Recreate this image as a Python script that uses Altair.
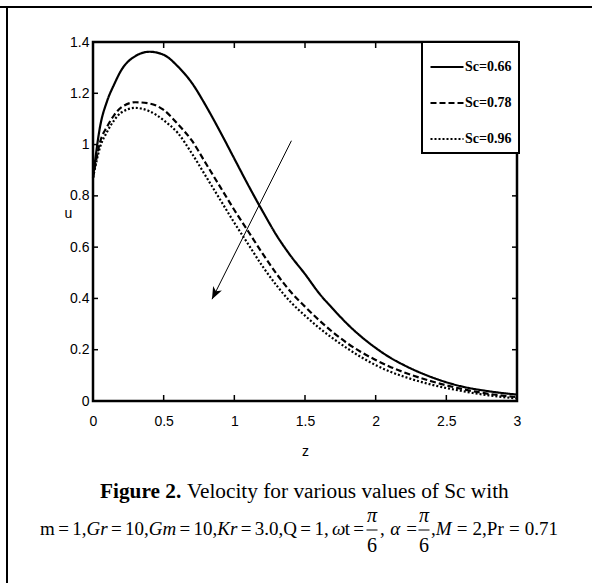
import altair as alt
import pandas as pd

# ---------------- data ----------------
z = [0, 0.05, 0.1, 0.15, 0.2, 0.3, 0.4, 0.5, 0.6, 0.7, 0.8, 0.9, 1.0, 1.1, 1.2, 1.3,
     1.4, 1.5, 1.6, 1.7, 1.8, 1.9, 2.0, 2.1, 2.2, 2.4, 2.6, 2.8, 3.0]
u_066 = [0.87, 1.07, 1.17, 1.235, 1.29, 1.345, 1.362, 1.35, 1.305, 1.24, 1.15, 1.05,
         0.945, 0.84, 0.74, 0.645, 0.565, 0.495, 0.42, 0.358, 0.30, 0.25, 0.207, 0.17,
         0.14, 0.092, 0.058, 0.038, 0.025]
u_078 = [0.87, 1.01, 1.07, 1.115, 1.145, 1.165, 1.16, 1.135, 1.08, 1.015, 0.925, 0.835,
         0.745, 0.66, 0.575, 0.495, 0.425, 0.368, 0.315, 0.267, 0.225, 0.19, 0.16, 0.134,
         0.112, 0.076, 0.048, 0.028, 0.015]
u_096 = [0.87, 0.99, 1.05, 1.095, 1.125, 1.143, 1.13, 1.095, 1.045, 0.965, 0.875, 0.785,
         0.695, 0.61, 0.525, 0.45, 0.385, 0.333, 0.285, 0.243, 0.205, 0.17, 0.14, 0.115,
         0.095, 0.063, 0.04, 0.022, 0.01]
series_labels = ["Sc=0.66", "Sc=0.78", "Sc=0.96"]
x_tick_values = [0, 0.5, 1, 1.5, 2, 2.5, 3]
y_tick_values = [0, 0.2, 0.4, 0.6, 0.8, 1.0, 1.2, 1.4]
x_inner_ticks = [0.5, 1, 1.5, 2, 2.5]
y_inner_ticks = [0.2, 0.4, 0.6, 0.8, 1.0, 1.2]
arrow_z = [1.404, 0.842]
arrow_u = [1.015, 0.397]

# ---------------- layout ----------------
W, H = 424, 359
OX, OY = 93, 42
TOTAL_W, TOTAL_H = 592, 583

rows = []
for lab, us in zip(series_labels, [u_066, u_078, u_096]):
    for zz, uu in zip(z, us):
        rows.append({"z": zz, "u": uu, "Sc": lab})
df = pd.DataFrame(rows)

xs = alt.Scale(domain=[0, 3], nice=False, zero=False)
ys = alt.Scale(domain=[0, 1.4], nice=False, zero=False)

TICK_FONT = "Liberation Sans"
SERIF = "Liberation Serif"

xaxis = alt.Axis(values=x_tick_values, format="~g", ticks=False, domain=False, grid=False,
                 labelFont=TICK_FONT, labelFontSize=14, labelColor="black", labelPadding=13,
                 labelFlush=False, labelOverlap=False,
                 title="z", titleFont=TICK_FONT, titleFontSize=14, titleFontWeight="normal",
                 titleColor="black", titleX=212, titleY=50, titleBaseline="middle",
                 titleAlign="center")
yaxis = alt.Axis(values=y_tick_values, format="~g", ticks=False, domain=False, grid=False,
                 labelFont=TICK_FONT, labelFontSize=14, labelColor="black", labelPadding=4,
                 labelFlush=False, labelOverlap=False,
                 title="u", titleFont=TICK_FONT, titleFontSize=14, titleFontWeight="normal",
                 titleColor="black", titleAngle=0, titleX=-25, titleY=171,
                 titleBaseline="middle", titleAlign="center")

legend = alt.Legend(title=None, orient="none", legendX=329, legendY=0,
                    symbolType="stroke", symbolSize=1089, symbolStrokeWidth=2.2,
                    symbolStrokeColor="black", symbolOffset=0,
                    labelFont=SERIF, labelFontSize=14, labelFontWeight="bold",
                    labelColor="black", labelOffset=0, padding=7, rowPadding=11,
                    strokeColor="black", fillColor="white")

lines = alt.Chart(df).mark_line(strokeWidth=2.2, color="black", interpolate="monotone").encode(
    x=alt.X("z:Q", scale=xs, axis=xaxis),
    y=alt.Y("u:Q", scale=ys, axis=yaxis),
    strokeDash=alt.StrokeDash("Sc:N",
                              scale=alt.Scale(domain=series_labels,
                                              range=[[1, 0], [6, 3], [2, 2]]),
                              legend=legend),
)

xt = pd.DataFrame({"z": x_inner_ticks})
yt = pd.DataFrame({"u": y_inner_ticks})
tick_b = alt.Chart(xt).mark_rule(color="black", strokeWidth=1.5).encode(
    x=alt.X("z:Q", scale=xs, axis=xaxis), y=alt.value(H), y2=alt.value(H - 6))
tick_t = alt.Chart(xt).mark_rule(color="black", strokeWidth=1.5).encode(
    x=alt.X("z:Q", scale=xs, axis=xaxis), y=alt.value(0), y2=alt.value(6))
tick_l = alt.Chart(yt).mark_rule(color="black", strokeWidth=1.5).encode(
    y=alt.Y("u:Q", scale=ys, axis=yaxis), x=alt.value(0), x2=alt.value(5))
tick_r = alt.Chart(yt).mark_rule(color="black", strokeWidth=1.5).encode(
    y=alt.Y("u:Q", scale=ys, axis=yaxis), x=alt.value(W), x2=alt.value(W - 5))

arrow_df = pd.DataFrame({"z": [arrow_z[0]], "u": [arrow_u[0]],
                         "z2": [arrow_z[1]], "u2": [arrow_u[1]]})
arrow_line = alt.Chart(arrow_df).mark_rule(color="black", strokeWidth=1).encode(
    x=alt.X("z:Q", scale=xs, axis=xaxis), y=alt.Y("u:Q", scale=ys, axis=yaxis),
    x2="z2:Q", y2="u2:Q")
head_df = pd.DataFrame({"z": [arrow_z[1]], "u": [arrow_u[1]]})
arrow_head = alt.Chart(head_df).mark_point(
    shape="M0,0 L0.4,1 L0,0.72 L-0.4,1 Z", filled=True, color="black", opacity=1,
    size=600, angle=206.6, strokeWidth=0).encode(
    x=alt.X("z:Q", scale=xs, axis=xaxis), y=alt.Y("u:Q", scale=ys, axis=yaxis))

dummy = pd.DataFrame({"d": [0]})
layers = [lines, tick_b, tick_t, tick_l, tick_r, arrow_line, arrow_head]

# page frame (top and left border lines)
layers.append(alt.Chart(dummy).mark_rule(color="black", strokeWidth=2).encode(
    x=alt.value(-OX), x2=alt.value(TOTAL_W - OX), y=alt.value(7 - OY)))
layers.append(alt.Chart(dummy).mark_rule(color="black", strokeWidth=2).encode(
    x=alt.value(7 - OX), y=alt.value(7 - OY), y2=alt.value(TOTAL_H - OY)))


def text_layer(txt, x, y, size, style="normal", weight="normal", align="left"):
    return alt.Chart(dummy).mark_text(
        text=txt, font=SERIF, fontSize=size, fontStyle=style, fontWeight=weight,
        align=align, baseline="alphabetic", color="black").encode(
        x=alt.value(x - OX), y=alt.value(y - OY))


# caption line 1
FS1 = 21.3
BOLD_W = {'F': 611, 'i': 278, 'g': 500, 'u': 556, 'r': 444, 'e': 444, ' ': 250, '2': 500, '.': 250}
fig_w = sum(BOLD_W[c] for c in "Figure 2.") * FS1 / 1000
layers.append(text_layer("Figure 2.", 100, 498, FS1, weight="bold"))
layers.append(text_layer("Velocity for various values of Sc with", 100 + fig_w + 0.25 * FS1,
                         498, FS1))

# caption line 2 (formula), laid out word by word between fixed anchors
FS2 = 19
REG = {',': 250, '.': 250, '=': 564, 'm': 778, 'Q': 722, 'P': 556, 'r': 333, 't': 278}
ITA = {'G': 722, 'r': 389, 'm': 722, 'K': 667, 'M': 833, 'ω': 667, 'α': 560}


def char_w(ch, ital):
    if ch.isdigit():
        return 500
    return (ITA if ital else REG).get(ch, 500)


def place_words(parts, x0, x1, base):
    # parts: list of (text, italic); spaces stretched so the run spans x0..x1
    tokens = []
    for txt, ital in parts:
        for ch in txt:
            if ch == ' ':
                tokens.append(None)
            elif tokens and tokens[-1] is not None and tokens[-1][1] == ital:
                tokens[-1] = (tokens[-1][0] + ch, ital)
            else:
                tokens.append((ch, ital))
    word_w = sum(sum(char_w(c, t[1]) for c in t[0]) for t in tokens if t is not None) * FS2 / 1000
    n_sp = sum(1 for t in tokens if t is None)
    sp = (x1 - x0 - word_w) / n_sp if n_sp else 0
    cur = x0
    out = []
    for t in tokens:
        if t is None:
            cur += sp
        else:
            out.append(text_layer(t[0], cur, base, FS2, style="italic" if t[1] else "normal"))
            cur += sum(char_w(c, t[1]) for c in t[0]) * FS2 / 1000
    return out


BASE2 = 535
left_parts = [("m = 1,", False), ("Gr", True), (" = 10,", False), ("Gm", True),
              (" = 10,", False), ("Kr", True), (" = 3.0,Q = 1, ", False), ("ω", True),
              ("t =", False)]
mid_parts = [(", ", False), ("α", True), (" =", False)]
right_parts = [(",", False), ("M", True), (" = 2,Pr = 0.71", False)]
layers += place_words(left_parts, 40, 364, BASE2)
layers += place_words(mid_parts, 380, 417, BASE2)
layers += place_words(right_parts, 431, 558, BASE2)

for cx in [372, 424]:
    layers.append(alt.Chart(dummy).mark_rule(color="black", strokeWidth=1).encode(
        x=alt.value(cx - 5.5 - OX), x2=alt.value(cx + 5.5 - OX), y=alt.value(530 - OY)))
    layers.append(text_layer("π", cx, 522, 20, style="italic", align="center"))
    layers.append(text_layer("6", cx, 552, 20, align="center"))

chart = alt.layer(*layers).properties(
    width=W, height=H,
    autosize=alt.AutoSizeParams(type="none"),
    padding={"left": OX, "top": OY, "right": TOTAL_W - OX - W, "bottom": TOTAL_H - OY - H},
    background="white",
).configure_view(stroke="black", strokeWidth=2.5).configure_legend(strokeWidth=2)

chart.save("out.html", embed_options={"renderer": "svg", "actions": False})
